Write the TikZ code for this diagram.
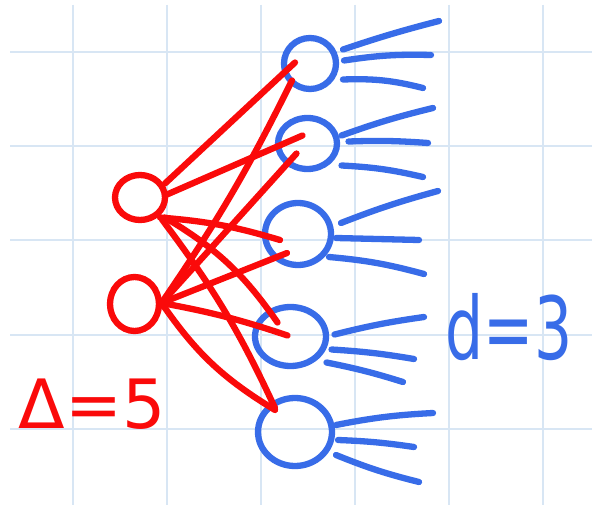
\documentclass[tikz,border=0pt]{standalone}
\usepackage{fontspec}
\setmainfont{DejaVu Sans}
\usetikzlibrary{shapes.geometric,calc}
\definecolor{gridc}{RGB}{216,230,244}
\definecolor{pen red}{RGB}{250,10,10}
\definecolor{pen blue}{RGB}{56,108,232}
\tikzset{
  gridline/.style={draw=gridc, line width=1.4pt},
  rnode/.style={ellipse, draw=pen red, line width=6.3pt, inner sep=0pt},
  bnode/.style={ellipse, draw=pen blue, line width=6.3pt, inner sep=0pt},
  redge/.style={draw=pen red, line width=6.3pt, line cap=round},
  bleg/.style={draw=pen blue, line width=6.3pt, line cap=round},
  rlabel/.style={text=pen red, inner sep=0pt, font=\fontsize{68}{70}\selectfont},
  blabel/.style={text=pen blue, inner sep=0pt, font=\fontsize{60}{62}\selectfont, yscale=1.45}
}
\begin{document}
\begin{tikzpicture}[x=1pt,y=-1pt]
\useasboundingbox (0,0) rectangle (592,505);
\fill[white] (0,0) rectangle (592,505);
% grid
\foreach \gx in {73,167,261,355,449,543} \draw[gridline] (\gx,5) -- (\gx,505);
\foreach \gy in {52,146,240,335,429} \draw[gridline] (10,\gy) -- (592,\gy);
% nodes
\node[rnode, minimum width=50pt, minimum height=45pt] (r1) at (140,197.5) {};
\node[rnode, minimum width=49pt, minimum height=54pt] (r2) at (134.5,304) {};
\node[bnode, minimum width=52pt, minimum height=51pt] (b1) at (310,63.5) {};
\node[bnode, minimum width=59pt, minimum height=51pt] (b2) at (307.5,143.5) {};
\node[bnode, minimum width=66pt, minimum height=62pt] (b3) at (298,234) {};
\node[bnode, minimum width=71pt, minimum height=59pt] (b4) at (290.5,336.5) {};
\node[bnode, minimum width=74pt, minimum height=68pt] (b5) at (295,432) {};
% red edges from r1
\draw[redge] ($(r1)+(25,-14)$) -- ($(b1)+(-15,-1)$);
\draw[redge] ($(r1)+(27,-3)$) -- ($(b2)+(-5,-8)$);
\draw[redge] ($(r1)+(20,20)$) to[bend left=6] ($(b3)+(-18,6)$);
\draw[redge] ($(r1)+(25,20)$) to[bend left=12] ($(b4)+(-13,-14)$);
\draw[redge] ($(r1)+(22,22)$) to[bend left=6] ($(b5)+(-20,-24)$);
% red edges from r2
\draw[redge] ($(r2)+(27,-1)$) to[bend right=4] ($(b1)+(-18,17)$);
\draw[redge] ($(r2)+(27,-1)$) -- ($(b2)+(-11,10)$);
\draw[redge] ($(r2)+(27,-1)$) -- ($(b3)+(-11,19)$);
\draw[redge] ($(r2)+(27,-1)$) to[bend left=4] ($(b4)+(-3,-1)$);
\draw[redge] ($(r2)+(27,-1)$) to[bend right=12] ($(b5)+(-20,-22)$);
% leg ends
\coordinate (e11) at (439,21);  \coordinate (e12) at (431,55);  \coordinate (e13) at (423,88);
\coordinate (e21) at (433,108); \coordinate (e22) at (428,143); \coordinate (e23) at (423,177);
\coordinate (e31) at (438,191); \coordinate (e32) at (419,240); \coordinate (e33) at (424,274);
\coordinate (e41) at (424,317); \coordinate (e42) at (414,359); \coordinate (e43) at (403,382);
\coordinate (e51) at (433,413); \coordinate (e52) at (414,447); \coordinate (e53) at (419,482);
% blue legs
\draw[bleg] ($(b1)+(33,-14)$) to[bend left=2] (e11);
\draw[bleg] ($(b1)+(34,-3)$) to[bend left=5] (e12);
\draw[bleg] ($(b1)+(33,16)$) to[bend left=8] (e13);
\draw[bleg] ($(b2)+(34,-8)$) to[bend left=3] (e21);
\draw[bleg] ($(b2)+(41,-2)$) to[bend left=3] (e22);
\draw[bleg] ($(b2)+(34,22)$) to[bend left=5] (e23);
\draw[bleg] ($(b3)+(43,-11)$) to[bend left=3] (e31);
\draw[bleg] ($(b3)+(38,4)$) -- (e32);
\draw[bleg] ($(b3)+(31,23)$) to[bend left=5] (e33);
\draw[bleg] ($(b4)+(44,-2)$) to[bend left=3] (e41);
\draw[bleg] ($(b4)+(41,13)$) to[bend left=3] (e42);
\draw[bleg] ($(b4)+(36,26)$) to[bend left=3] (e43);
\draw[bleg] ($(b5)+(41,-7)$) to[bend left=4] (e51);
\draw[bleg] ($(b5)+(43,8)$) to[bend left=3] (e52);
\draw[bleg] ($(b5)+(41,23)$) to[bend right=4] (e53);
% labels
\node[rlabel] (delta) at (92,404) {Δ=5};
\node[blabel] (dlab) at (509,327) {d=3};
\end{tikzpicture}
\end{document}
